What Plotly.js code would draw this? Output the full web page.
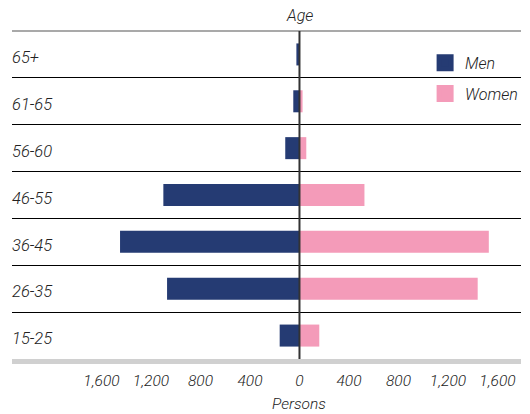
<!DOCTYPE html>
<html>
<head>
<meta charset="utf-8">
<script src="https://cdn.plot.ly/plotly-3.0.1.min.js"></script>
<style>html,body{margin:0;padding:0;background:#fff;}#chart{width:530px;height:414px;}</style>
</head>
<body>
<div id="chart"></div>
<script>
// Data
var ageGroups = ['15-25', '26-35', '36-45', '46-55', '56-60', '61-65', '65+'];
var menValues = [160, 1070, 1450, 1100, 115, 50, 25];
var womenValues = [160, 1440, 1530, 525, 55, 25, 0];
var tickValues = [-1600, -1200, -800, -400, 0, 400, 800, 1200, 1600];
var tickLabels = ['1,600', '1,200', '800', '400', '0', '400', '800', '1,200', '1,600'];

var menColor = '#253b73';
var womenColor = '#f49bb9';
var fontFam = 'Roboto, "Liberation Sans", Arial, sans-serif';
var txtColor = '#222222';
var fw = 300;

var menNeg = menValues.map(function (v) { return -v; });

var traces = [
  {
    type: 'bar', orientation: 'h', name: 'Men', y: ageGroups, x: menNeg,
    marker: { color: menColor }, showlegend: false, hoverinfo: 'skip'
  },
  {
    type: 'bar', orientation: 'h', name: 'Women', y: ageGroups, x: womenValues,
    marker: { color: womenColor }, showlegend: false, hoverinfo: 'skip'
  },
  // legend-only entries (no drawn marks)
  {
    type: 'bar', orientation: 'h', name: 'Men', y: [ageGroups[0]], x: [null],
    marker: { color: menColor, line: { color: menColor, width: 5 } }, legendgroup: 'm'
  },
  {
    type: 'bar', orientation: 'h', name: 'Women', y: [ageGroups[0]], x: [null],
    marker: { color: womenColor, line: { color: womenColor, width: 5 } }, legendgroup: 'w'
  }
];

var layout = {
  width: 530, height: 414,
  margin: { l: 12, r: 8, t: 31, b: 55, pad: 0 },
  paper_bgcolor: '#fff', plot_bgcolor: '#fff',
  barmode: 'relative',
  bargap: 0.53,
  font: { family: fontFam, size: 16, color: txtColor, style: 'italic', weight: fw },
  xaxis: {
    range: [-2323, 1790],
    tickvals: tickValues, ticktext: tickLabels,
    showgrid: false,
    zeroline: false,
    showline: true, linecolor: '#d0d0d0', linewidth: 5,
    ticks: '',
    tickfont: { family: fontFam, size: 15.5, color: txtColor, style: 'italic', weight: fw },
    ticklabelstandoff: 3,
    fixedrange: true
  },
  yaxis: {
    type: 'category',
    categoryorder: 'array', categoryarray: ageGroups,
    tickson: 'boundaries',
    showgrid: true, gridcolor: '#000', gridwidth: 1,
    ticks: '',
    ticklabelposition: 'inside',
    ticklabelshift: 3,
    ticklabelstandoff: -3,
    tickfont: { family: fontFam, size: 16.5, color: txtColor, style: 'italic', weight: fw },
    showline: false, zeroline: false,
    fixedrange: true
  },
  legend: {
    x: 0.81, xanchor: 'left', y: 0.955, yanchor: 'top',
    bgcolor: 'rgba(0,0,0,0)', borderwidth: 0,
    font: { family: fontFam, size: 16, color: txtColor, style: 'italic', weight: fw },
    tracegroupgap: 7
  },
  shapes: [
    { type: 'line', xref: 'paper', yref: 'paper', x0: 0, x1: 1, y0: 1, y1: 1,
      line: { color: '#8c8c8c', width: 1.5 }, layer: 'above' },
    { type: 'line', xref: 'x', yref: 'paper', x0: 0, x1: 0, y0: 0, y1: 1,
      line: { color: '#333', width: 2 }, layer: 'above' }
  ],
  annotations: [
    { text: 'Age', xref: 'x', yref: 'paper', x: 0, y: 1, yanchor: 'bottom', yshift: 4,
      showarrow: false, font: { family: fontFam, size: 16, color: txtColor, style: 'italic', weight: fw } },
    { text: 'Persons', xref: 'x', yref: 'paper', x: 0, y: 0, yanchor: 'top', yshift: -34,
      showarrow: false, font: { family: fontFam, size: 15.5, color: txtColor, style: 'italic', weight: fw } }
  ]
};

Plotly.newPlot('chart', traces, layout, { displayModeBar: false, staticPlot: true });
</script>
</body>
</html>
